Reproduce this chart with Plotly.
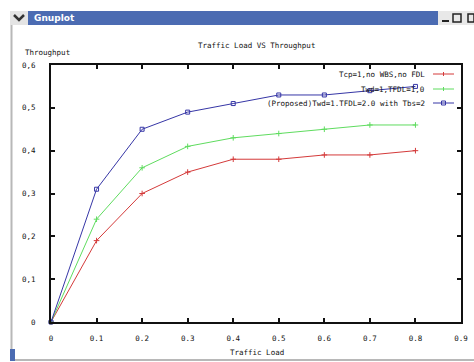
import plotly.graph_objects as go

# ---- data ----
traffic_load = [0, 0.1, 0.2, 0.3, 0.4, 0.5, 0.6, 0.7, 0.8]
tcp_no_wbs = [0, 0.19, 0.30, 0.35, 0.38, 0.38, 0.39, 0.39, 0.40]
twd_tfdl1 = [0, 0.24, 0.36, 0.41, 0.43, 0.44, 0.45, 0.46, 0.46]
proposed = [0, 0.31, 0.45, 0.49, 0.51, 0.53, 0.53, 0.54, 0.55]
series_names = ["Tcp=1,no WBS,no FDL", "Twd=1,TFDL=1,0", "(Proposed)Twd=1.TFDL=2.0 with Tbs=2"]
x_ticks = [0, 0.1, 0.2, 0.3, 0.4, 0.5, 0.6, 0.7, 0.8, 0.9]
x_tick_text = ["0", "0.1", "0.2", "0.3", "0.4", "0.5", "0.6", "0.7", "0.8", "0.9"]
y_ticks = [0, 0.1, 0.2, 0.3, 0.4, 0.5, 0.6]
y_tick_text = ["0", "0,1", "0,2", "0,3", "0,4", "0,5", "0,6"]

W, H = 474, 362
L, R, T, B = 51, 13, 65, 40
PW, PH = W - L - R, H - T - B

def px(x):
    return (x - L) / PW

def py(y):
    return (H - B - y) / PH

FONT = "DejaVu Sans Mono"
colors = ["#d43a3a", "#5fdc5f", "#3636a6"]
symbols = ["cross-thin", "cross-thin", "square-open"]
data = [tcp_no_wbs, twd_tfdl1, proposed]

fig = go.Figure()
for name, ys, c, s in zip(series_names, data, colors, symbols):
    fig.add_trace(go.Scatter(
        x=traffic_load, y=ys, mode="lines+markers", name=name,
        line=dict(color=c, width=1),
        marker=dict(symbol=s, size=4, color=c, line=dict(color=c, width=1)),
        showlegend=False, cliponaxis=False))

shapes = []
annotations = []

# window chrome
shapes.append(dict(type="rect", xref="paper", yref="paper", x0=px(10), x1=px(474), y0=py(25), y1=py(11),
                   fillcolor="#4b6bb2", line=dict(width=0), layer="below"))
shapes.append(dict(type="rect", xref="paper", yref="paper", x0=px(10), x1=px(28), y0=py(25), y1=py(11),
                   fillcolor="#e4e4e4", line=dict(width=0), layer="below"))
shapes.append(dict(type="rect", xref="paper", yref="paper", x0=px(438), x1=px(474), y0=py(25), y1=py(11),
                   fillcolor="#e8e8e8", line=dict(width=0), layer="below"))
# chevron
shapes.append(dict(type="path", xref="paper", yref="paper",
                   path=f"M {px(14)},{py(15)} L {px(19)},{py(20)} L {px(24)},{py(15)}",
                   line=dict(color="#333333", width=2.5)))
# buttons
shapes.append(dict(type="line", xref="paper", yref="paper", x0=px(442), x1=px(449), y0=py(21), y1=py(21),
                   line=dict(color="#222222", width=2)))
shapes.append(dict(type="rect", xref="paper", yref="paper", x0=px(453), x1=px(461), y0=py(22), y1=py(14),
                   line=dict(color="#222222", width=1.5)))
shapes.append(dict(type="rect", xref="paper", yref="paper", x0=px(468), x1=px(474), y0=py(22), y1=py(14),
                   line=dict(color="#222222", width=1.5)))
# window borders
shapes.append(dict(type="line", xref="paper", yref="paper", x0=px(11.5), x1=px(11.5), y0=py(25), y1=py(360),
                   line=dict(color="#b8b8b8", width=2)))
shapes.append(dict(type="line", xref="paper", yref="paper", x0=px(11), x1=px(474), y0=py(360), y1=py(360),
                   line=dict(color="#b8b8b8", width=2)))
shapes.append(dict(type="rect", xref="paper", yref="paper", x0=px(10), x1=px(15), y0=py(361), y1=py(349),
                   fillcolor="#4b6bb2", line=dict(width=0)))

annotations.append(dict(text="<b>Gnuplot</b>", x=px(32), y=py(18), xref="paper", yref="paper",
                        xanchor="left", yanchor="middle", showarrow=False,
                        font=dict(family="DejaVu Sans", size=9, color="white")))

# titles
annotations.append(dict(text="Traffic Load VS Throughput", x=px(256), y=py(45), xref="paper", yref="paper",
                        xanchor="center", yanchor="middle", showarrow=False,
                        font=dict(family=FONT, size=7.5, color="#111111")))
annotations.append(dict(text="Throughput", x=px(23), y=py(53), xref="paper", yref="paper",
                        xanchor="left", yanchor="middle", showarrow=False,
                        font=dict(family=FONT, size=7.5, color="#111111")))
annotations.append(dict(text="Traffic Load", x=px(257), y=py(352), xref="paper", yref="paper",
                        xanchor="center", yanchor="middle", showarrow=False,
                        font=dict(family=FONT, size=7.5, color="#111111")))

# custom gnuplot-style legend
legend_rows = [74, 89, 103]
for name, c, s, yy in zip(series_names, colors, symbols, legend_rows):
    annotations.append(dict(text=name, x=px(427), y=py(yy), xref="paper", yref="paper",
                            xanchor="right", yanchor="middle", showarrow=False,
                            font=dict(family=FONT, size=7.5, color="#111111")))
    shapes.append(dict(type="line", xref="paper", yref="paper", x0=px(433), x1=px(454), y0=py(yy), y1=py(yy),
                       line=dict(color=c, width=1)))
    shapes.append(dict(type="rect", xref="paper", yref="paper", x0=px(441.5), x1=px(445.5),
                       y0=py(yy + 2), y1=py(yy - 2), line=dict(color=c, width=1))
                  if s == "square-open" else
                  dict(type="line", xref="paper", yref="paper", x0=px(443.5), x1=px(443.5),
                       y0=py(yy + 2), y1=py(yy - 2), line=dict(color=c, width=1)))

axis_common = dict(showgrid=False, zeroline=False, showline=True, linecolor="#111111", linewidth=2,
                   mirror="allticks", ticks="inside", ticklen=4, tickcolor="#111111", tickwidth=1.5,
                   tickfont=dict(family=FONT, size=7.5, color="#111111"))

fig.update_layout(
    width=W, height=H,
    margin=dict(l=L, r=R, t=T, b=B, autoexpand=False),
    paper_bgcolor="white", plot_bgcolor="white",
    showlegend=False,
    xaxis=dict(range=[0, 0.9], tickvals=x_ticks, ticktext=x_tick_text, ticklabelstandoff=8, **axis_common),
    yaxis=dict(range=[0, 0.6], tickvals=y_ticks, ticktext=y_tick_text, ticklabelstandoff=12, **axis_common),
    shapes=shapes, annotations=annotations,
)

fig.write_html("out.html", config={"displayModeBar": False},
               post_script="document.body.style.margin='0';document.body.style.overflow='hidden';")
